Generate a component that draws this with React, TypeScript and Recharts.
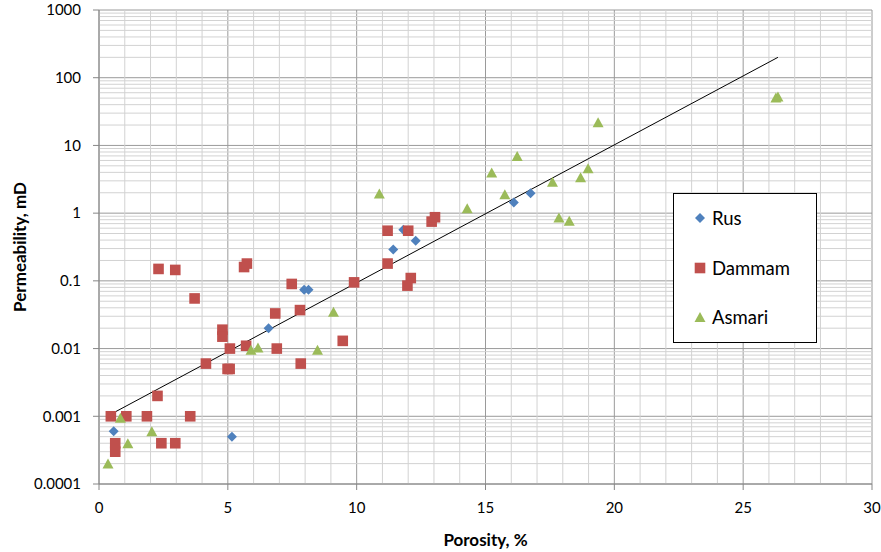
import React from 'react';
import { CartesianGrid, Legend, ReferenceLine, Scatter, ScatterChart, XAxis, YAxis } from 'recharts';

// porosity (%) / permeability (mD)
const rusPorosity = [0.57, 5.16, 6.58, 7.96, 8.13, 11.42, 11.81, 12.29, 16.1, 16.75];
const rusPermeability = [0.0006, 0.0005, 0.02, 0.074, 0.074, 0.29, 0.57, 0.39, 1.43, 1.97];

const dammamPorosity = [
  0.46, 1.06, 1.86, 3.54, 2.27, 0.63, 0.63, 2.42, 2.96, 4.15, 4.79, 4.79, 5.08, 4.99, 5.07, 5.71, 6.9, 6.84,
  3.71, 2.31, 2.96, 5.63, 5.74, 7.48, 9.9, 7.8, 7.83, 9.46, 11.2, 12.0, 11.2, 12.1, 11.97, 12.91, 13.04,
];
const dammamPermeability = [
  0.001, 0.001, 0.001, 0.001, 0.002, 0.0004, 0.0003, 0.0004, 0.0004, 0.006, 0.019, 0.015, 0.01, 0.005, 0.005,
  0.011, 0.01, 0.033, 0.055, 0.15, 0.145, 0.16, 0.18, 0.09, 0.095, 0.037, 0.006, 0.013, 0.55, 0.55, 0.18, 0.11,
  0.085, 0.75, 0.87,
];

const asmariPorosity = [
  0.35, 0.83, 1.12, 2.05, 5.9, 6.17, 8.48, 9.1, 10.88, 14.29, 15.24, 15.75, 16.23, 17.6, 17.85, 18.25, 18.69,
  18.98, 19.37, 26.27, 26.35,
];
const asmariPermeability = [
  0.0002, 0.00095, 0.0004, 0.0006, 0.0096, 0.0104, 0.0096, 0.035, 1.95, 1.18, 3.97, 1.9, 7.0, 2.9, 0.86, 0.77,
  3.4, 4.6, 22, 51, 53,
];

// exponential trendline end points
const trendPorosity = [0.31, 26.35];
const trendPermeability = [0.001, 200];

const seriesOrder = ['Rus', 'Dammam', 'Asmari'];

const xTicks = [0, 5, 10, 15, 20, 25, 30];
const yTicks = [0.0001, 0.001, 0.01, 0.1, 1, 10, 100, 1000];

const xMinor = Array.from({ length: 31 }, (_, i) => i).filter((v) => v % 5 !== 0);
const yMinor: number[] = [];
for (let d = -4; d <= 2; d++) {
  for (let k = 2; k <= 9; k++) yMinor.push(Number((k * Math.pow(10, d)).toPrecision(3)));
}

const zip = (xs: number[], ys: number[]) => xs.map((x, i) => ({ x, y: ys[i] }));

const rus = zip(rusPorosity, rusPermeability);
const dammam = zip(dammamPorosity, dammamPermeability);
const asmari = zip(asmariPorosity, asmariPermeability);
const trend = zip(trendPorosity, trendPermeability);

const FONT = 'Lato, "Liberation Sans", sans-serif';

const BLUE = '#4F81BD';
const RED = '#C0504D';
const GREEN = '#9BBB59';
const MINOR = '#d2d2d2';

const Diamond = ({ cx, cy, fill }: any) => (
  <polygon points={`${cx},${cy - 5} ${cx + 5},${cy} ${cx},${cy + 5} ${cx - 5},${cy}`} fill={fill} />
);

const Square = ({ cx, cy, fill }: any) => (
  <rect x={cx - 5.3} y={cy - 5.3} width={10.6} height={10.6} fill={fill} />
);

const Triangle = ({ cx, cy, fill }: any) => (
  <polygon points={`${cx},${cy - 5} ${cx + 5.5},${cy + 5} ${cx - 5.5},${cy + 5}`} fill={fill} />
);

const markerFor: Record<string, (c: string) => React.ReactNode> = {
  Rus: (c) => <svg width={12} height={12}><Diamond cx={6} cy={6} fill={c} /></svg>,
  Dammam: (c) => <svg width={12} height={12}><Square cx={6} cy={6} fill={c} /></svg>,
  Asmari: (c) => <svg width={12} height={12}><Triangle cx={6} cy={6} fill={c} /></svg>,
};

const LegendBox = ({ payload }: any) => {
  const items = (payload || [])
    .filter((p: any) => seriesOrder.includes(p.value))
    .sort((a: any, b: any) => seriesOrder.indexOf(a.value) - seriesOrder.indexOf(b.value));
  return (
    <div
      style={{
        width: 142,
        height: 148,
        border: '1px solid #000',
        background: '#fff',
        fontFamily: FONT,
        fontSize: 18.5,
        color: '#000',
      }}
    >
      {items.map((p: any, i: number) => (
        <div
          key={p.value}
          style={{
            position: 'absolute',
            left: 21,
            top: 13 + i * 49.5,
            height: 24,
            display: 'flex',
            alignItems: 'center',
          }}
        >
          {markerFor[p.value]?.(p.color)}
          <span style={{ marginLeft: 6 }}>{p.value}</span>
        </div>
      ))}
    </div>
  );
};

const tickStyle = { fontFamily: FONT, fontSize: 15, fill: '#000' };

export default function App() {
  return (
    <div style={{ position: 'absolute', left: 0, top: 0, background: '#fff' }}>
      <ScatterChart width={881} height={552} margin={{ top: 10, right: 9, bottom: 0, left: 0 }}>
        {xMinor.map((v) => (
          <ReferenceLine key={`vx${v}`} x={v} stroke={MINOR} strokeWidth={1} />
        ))}
        {yMinor.map((v) => (
          <ReferenceLine key={`hy${v}`} y={v} stroke={MINOR} strokeWidth={1} />
        ))}
        <CartesianGrid stroke="#9a9a9a" />
        <XAxis
          type="number"
          dataKey="x"
          domain={[0, 30]}
          ticks={xTicks}
          allowDataOverflow
          height={68}
          stroke="#868686"
          tickSize={6}
          tickMargin={12}
          tick={tickStyle}
          label={{
            value: 'Porosity, %',
            position: 'insideBottom',
            offset: 6,
            style: { fontFamily: FONT, fontSize: 17, fontWeight: 700, fill: '#000' },
          }}
        />
        <YAxis
          type="number"
          dataKey="y"
          scale="log"
          domain={[0.0001, 1000]}
          ticks={yTicks}
          allowDataOverflow
          width={99}
          stroke="#868686"
          tickSize={6}
          tickMargin={12}
          tick={tickStyle}
          tickFormatter={(v: number) => String(v)}
          label={{
            content: ({ viewBox }: any) => {
              const cx = viewBox.x + 19;
              const cy = viewBox.y + viewBox.height / 2;
              return (
                <text
                  x={cx}
                  y={cy}
                  transform={`rotate(-90 ${cx} ${cy})`}
                  textAnchor="middle"
                  dominantBaseline="central"
                  style={{ fontFamily: FONT, fontSize: 17, fontWeight: 700, fill: '#000' }}
                >
                  Permeability, mD
                </text>
              );
            },
          }}
        />
        <Legend
          layout="vertical"
          align="center"
          verticalAlign="middle"
          content={<LegendBox />}
          wrapperStyle={{ left: 673, top: 193, width: 144, height: 150 }}
        />
        <Scatter
          data={trend}
          line={{ stroke: '#000', strokeWidth: 1 }}
          shape={() => <g />}
          legendType="none"
          isAnimationActive={false}
        />
        <Scatter name="Rus" data={rus} fill={BLUE} shape={<Diamond />} isAnimationActive={false} />
        <Scatter name="Dammam" data={dammam} fill={RED} shape={<Square />} isAnimationActive={false} />
        <Scatter name="Asmari" data={asmari} fill={GREEN} shape={<Triangle />} isAnimationActive={false} />
      </ScatterChart>
    </div>
  );
}
